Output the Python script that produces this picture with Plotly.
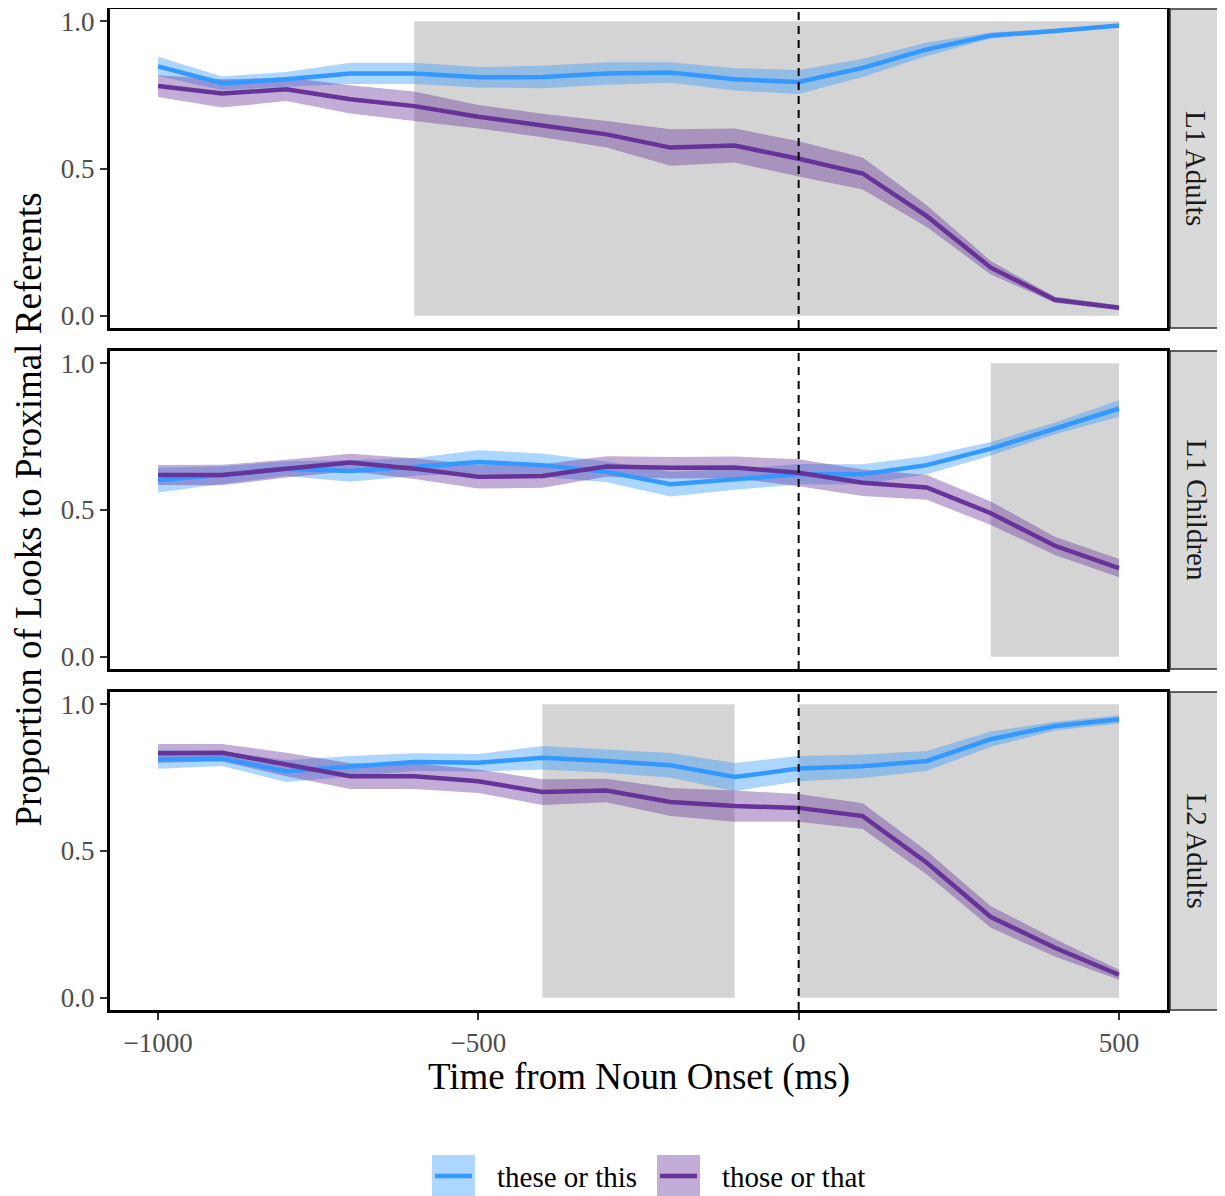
import plotly.graph_objects as go

# ---------------- data ----------------
time_ms = [-1000, -900, -800, -700, -600, -500, -400, -300, -200, -100, 0, 100, 200, 300, 400, 500]

groups = ["L1 Adults", "L1 Children", "L2 Adults"]
series_names = ["these or this", "those or that"]

# L1 Adults
l1a_this = [0.847, 0.790, 0.803, 0.823, 0.823, 0.810, 0.811, 0.823, 0.826, 0.803, 0.794, 0.842, 0.905, 0.952, 0.967, 0.986]
l1a_this_ci = [0.033, 0.023, 0.025, 0.036, 0.036, 0.035, 0.038, 0.038, 0.035, 0.038, 0.041, 0.031, 0.023, 0.010, 0.007, 0.006]
l1a_that = [0.780, 0.755, 0.769, 0.735, 0.712, 0.676, 0.646, 0.616, 0.571, 0.578, 0.533, 0.483, 0.338, 0.163, 0.054, 0.027]
l1a_that_ci = [0.037, 0.048, 0.040, 0.048, 0.050, 0.040, 0.040, 0.045, 0.062, 0.058, 0.060, 0.054, 0.037, 0.023, 0.010, 0.008]

# L1 Children
l1c_this = [0.602, 0.619, 0.641, 0.633, 0.647, 0.664, 0.653, 0.630, 0.588, 0.604, 0.622, 0.622, 0.653, 0.709, 0.778, 0.846]
l1c_this_ci = [0.042, 0.030, 0.025, 0.037, 0.030, 0.040, 0.040, 0.035, 0.042, 0.035, 0.035, 0.034, 0.031, 0.023, 0.020, 0.028]
l1c_that = [0.619, 0.619, 0.641, 0.662, 0.641, 0.613, 0.616, 0.648, 0.644, 0.645, 0.627, 0.593, 0.577, 0.489, 0.378, 0.302]
l1c_that_ci = [0.034, 0.035, 0.030, 0.030, 0.035, 0.040, 0.040, 0.035, 0.037, 0.037, 0.046, 0.045, 0.042, 0.040, 0.031, 0.031]

# L2 Adults
l2a_this = [0.812, 0.815, 0.772, 0.789, 0.803, 0.801, 0.818, 0.807, 0.792, 0.752, 0.781, 0.789, 0.807, 0.881, 0.926, 0.949]
l2a_this_ci = [0.032, 0.025, 0.037, 0.035, 0.030, 0.030, 0.040, 0.040, 0.042, 0.048, 0.043, 0.040, 0.034, 0.026, 0.015, 0.014]
l2a_that = [0.833, 0.835, 0.795, 0.755, 0.755, 0.738, 0.701, 0.706, 0.667, 0.653, 0.647, 0.619, 0.460, 0.275, 0.170, 0.078]
l2a_that_ci = [0.032, 0.030, 0.040, 0.044, 0.044, 0.040, 0.044, 0.040, 0.048, 0.053, 0.047, 0.044, 0.040, 0.037, 0.030, 0.017]

# significant time windows per group (start, end)
l1a_windows = [(-600, 500)]
l1c_windows = [(300, 500)]
l2a_windows = [(-400, -100), (0, 500)]

x_tick_vals = [-1000, -500, 0, 500]
x_tick_text = ["\u22121000", "\u2212500", "0", "500"]
y_tick_vals = [0, 0.5, 1.0]
y_tick_text = ["0.0", "0.5", "1.0"]

# ---------------- styling ----------------
OFF = 8  # page body margin in the browser
W, H = 1225 - OFF, 1196 - OFF
FONT = "Liberation Serif"
line_colors = ["#3399FF", "#663399"]
ribbon_colors = ["rgba(51,153,255,0.4)", "rgba(102,51,153,0.4)"]
ribbon_solid = ["#ADD6FF", "#C2ADD6"]

def fx(p):
    return (p - OFF) / W

def fy(p):
    return 1 - (p - OFF) / H

panel_px = [(9, 328), (351, 669), (692, 1010)]
x_dom = [fx(110), fx(1167)]

panel_data = [
    ([l1a_this, l1a_that], [l1a_this_ci, l1a_that_ci], l1a_windows),
    ([l1c_this, l1c_that], [l1c_this_ci, l1c_that_ci], l1c_windows),
    ([l2a_this, l2a_that], [l2a_this_ci, l2a_that_ci], l2a_windows),
]

fig = go.Figure()
shapes = []
annotations = []
layout = {}

for i, (means, cis, windows) in enumerate(panel_data):
    n = i + 1
    xa = "x" if n == 1 else f"x{n}"
    ya = "y" if n == 1 else f"y{n}"
    top, bot = panel_px[i]
    is_bottom = (n == 3)
    layout["xaxis" if n == 1 else f"xaxis{n}"] = dict(
        domain=x_dom, range=[-1075, 575], anchor=ya,
        showline=True, mirror=True, linecolor="black", linewidth=3,
        showgrid=False, zeroline=False,
        ticks="outside" if is_bottom else "", ticklen=7, tickwidth=2, tickcolor="#333333",
        showticklabels=is_bottom, tickvals=x_tick_vals, ticktext=x_tick_text,
        tickfont=dict(family=FONT, size=27, color="#4D4D4D"), automargin=False,
        ticklabeloverflow="allow",
    )
    layout["yaxis" if n == 1 else f"yaxis{n}"] = dict(
        domain=[fy(bot), fy(top)], range=[-0.042, 1.042], anchor=xa,
        showline=True, mirror=True, linecolor="black", linewidth=3,
        showgrid=False, zeroline=False,
        ticks="outside", ticklen=7, tickwidth=2, tickcolor="#333333",
        tickvals=y_tick_vals, ticktext=y_tick_text,
        tickfont=dict(family=FONT, size=27, color="#4D4D4D"), automargin=False,
        ticklabeloverflow="allow",
    )
    # shaded windows
    for (a, b) in windows:
        shapes.append(dict(type="rect", xref=xa, yref=ya, x0=a, x1=b, y0=0, y1=1,
                           fillcolor="#D4D4D4", line=dict(width=0), layer="below"))
    # ribbons
    for s in range(2):
        upper = [m + c for m, c in zip(means[s], cis[s])]
        lower = [m - c for m, c in zip(means[s], cis[s])]
        fig.add_trace(go.Scatter(
            x=time_ms + time_ms[::-1], y=upper + lower[::-1],
            fill="toself", fillcolor=ribbon_colors[s], line=dict(width=0),
            mode="lines", xaxis=xa, yaxis=ya, showlegend=False, hoverinfo="skip"))
    for s in range(2):
        fig.add_trace(go.Scatter(
            x=time_ms, y=means[s], mode="lines",
            line=dict(color=line_colors[s], width=4.5),
            xaxis=xa, yaxis=ya, showlegend=False, name=series_names[s]))
    # dashed noun onset
    shapes.append(dict(type="line", xref=xa, yref=f"{ya} domain", x0=0, x1=0, y0=0, y1=1,
                       line=dict(color="black", width=2, dash="8px,6px"), layer="above"))
    # strip
    shapes.append(dict(type="rect", xref="paper", yref="paper",
                       x0=fx(1170), x1=fx(1223), y0=fy(bot), y1=fy(top),
                       fillcolor="#D9D9D9", line=dict(color="#333333", width=1.5)))
    annotations.append(dict(text=groups[i], xref="paper", yref="paper",
                            x=fx(1196.5), y=fy((top + bot) / 2), showarrow=False,
                            textangle=90, font=dict(family=FONT, size=29, color="#1A1A1A"),
                            xanchor="center", yanchor="middle"))

# axis titles
annotations.append(dict(text="Proportion of Looks to Proximal Referents", xref="paper", yref="paper",
                        x=fx(28), y=fy(509.5), showarrow=False, textangle=-90,
                        font=dict(family=FONT, size=37, color="black"),
                        xanchor="center", yanchor="middle"))
annotations.append(dict(text="Time from Noun Onset (ms)", xref="paper", yref="paper",
                        x=fx(638.5), y=fy(1077), showarrow=False,
                        font=dict(family=FONT, size=37, color="black"),
                        xanchor="center", yanchor="middle"))

# legend (manual, bottom)
legend_keys = [(432, 475, 495), (657, 700, 720)]
for s, (k0, k1, tx) in enumerate(legend_keys):
    shapes.append(dict(type="rect", xref="paper", yref="paper",
                       x0=fx(k0), x1=fx(k1), y0=fy(1196), y1=fy(1155),
                       fillcolor=ribbon_solid[s], line=dict(width=0)))
    shapes.append(dict(type="line", xref="paper", yref="paper",
                       x0=fx(k0 + 3), x1=fx(k1 - 3), y0=fy(1176), y1=fy(1176),
                       line=dict(color=line_colors[s], width=4.5)))
    annotations.append(dict(text=series_names[s], xref="paper", yref="paper",
                            x=fx(tx), y=fy(1177), showarrow=False,
                            font=dict(family=FONT, size=29, color="black"),
                            xanchor="left", yanchor="middle"))

fig.update_layout(
    width=W, height=H, margin=dict(l=0, r=0, t=0, b=0),
    paper_bgcolor="white", plot_bgcolor="white",
    showlegend=False, shapes=shapes, annotations=annotations,
    font=dict(family=FONT),
    **layout,
)

fig.write_html("out.html")
